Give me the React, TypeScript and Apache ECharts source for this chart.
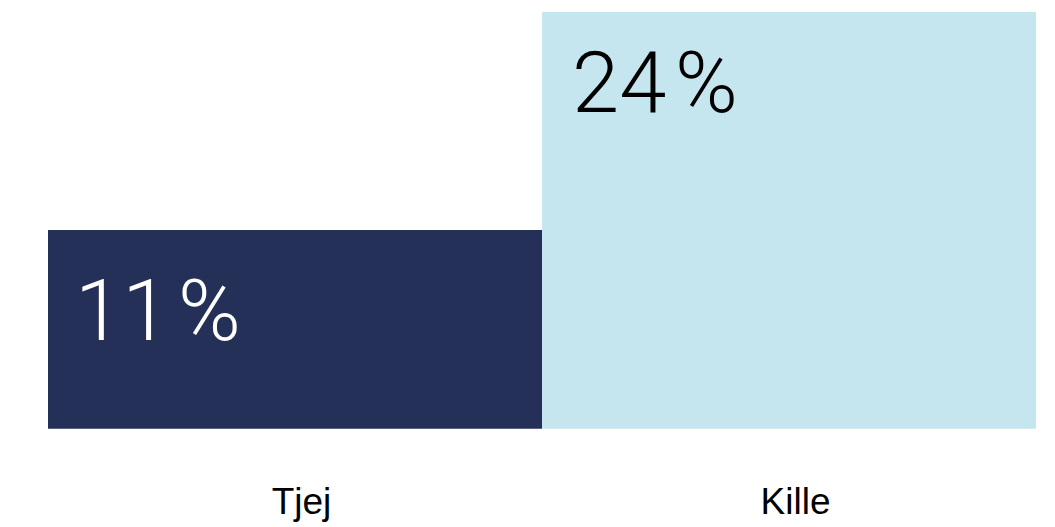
import React, { useEffect, useRef } from "react";
import * as echarts from "echarts";

const categories = ["Tjej", "Kille"];
const values = [11.45, 24.0];
const labels = ["11\u200a%", "24\u200a%"];
const barColors = ["#243057", "#c5e6ef"];
const labelColors = ["#ffffff", "#000000"];

export default function App() {
  const ref = useRef<HTMLDivElement>(null);
  useEffect(() => {
    if (!ref.current) return;
    document.body.style.margin = "0";
    const chart = echarts.init(ref.current, undefined, { renderer: "svg" });
    chart.setOption({
      animation: false,
      grid: { left: 48, right: 19, top: 12, bottom: 98.3, containLabel: false },
      xAxis: {
        type: "category",
        data: categories,
        axisLine: { show: false },
        axisTick: { show: false },
        axisLabel: {
          fontFamily: "Liberation Sans",
          fontSize: 37,
          color: "#000",
          margin: 54,
          verticalAlign: "top",
          padding: [0, 0, 0, 13],
        },
      },
      yAxis: {
        type: "value",
        min: 0,
        max: 24,
        show: false,
        splitLine: { show: false },
      },
      series: [
        {
          type: "bar",
          barWidth: "100%",
          barCategoryGap: 0,
          data: values.map((v, i) => ({
            value: v,
            itemStyle: { color: barColors[i] },
            label: {
              show: true,
              position: "insideTopLeft",
              distance: 0,
              offset: i === 0 ? [27, 39] : [30, 28],
              formatter: labels[i],
              color: labelColors[i],
              fontFamily: "Roboto",
              fontWeight: 300,
              fontSize: 85,
            },
          })),
        },
      ],
    });
    return () => chart.dispose();
  }, []);
  return <div ref={ref} style={{ width: 1055, height: 527 }} />;
}
